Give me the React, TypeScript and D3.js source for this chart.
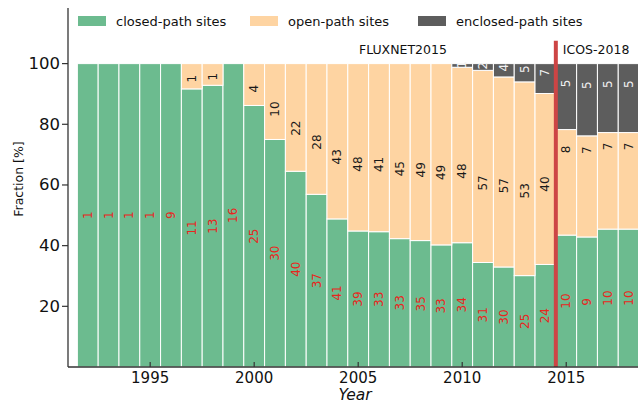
import React from "react";
import * as d3 from "d3";

const years = [1992, 1993, 1994, 1995, 1996, 1997, 1998, 1999, 2000, 2001, 2002, 2003, 2004, 2005, 2006, 2007, 2008, 2009, 2010, 2011, 2012, 2013, 2014, 2015, 2016, 2017, 2018];
const closedCounts = [1, 1, 1, 1, 9, 11, 13, 16, 25, 30, 40, 37, 41, 39, 33, 33, 35, 33, 34, 31, 30, 25, 24, 10, 9, 10, 10];
const openCounts = [0, 0, 0, 0, 0, 1, 1, 0, 4, 10, 22, 28, 43, 48, 41, 45, 49, 49, 48, 57, 57, 53, 40, 8, 7, 7, 7];
const enclosedCounts = [0, 0, 0, 0, 0, 0, 0, 0, 0, 0, 0, 0, 0, 0, 0, 0, 0, 0, 1, 2, 4, 5, 7, 5, 5, 5, 5];
const seriesKeys = ["closed", "open", "enclosed"];
const seriesNames = ["closed-path sites", "open-path sites", "enclosed-path sites"];
const yTicks = [20, 40, 60, 80, 100];
const xTicks = [1995, 2000, 2005, 2010, 2015];
const datasetBreak = 2014.5;
const datasetNames = ["FLUXNET2015", "ICOS-2018"];

const W = 638;
const H = 405;
const FONT = "DejaVu Sans, Verdana, sans-serif";
const COLORS: Record<string, string> = { closed: "#6cbb8f", open: "#fed4a2", enclosed: "#5d5d5d" };
const LABEL_COLORS: Record<string, string> = { closed: "#e8261e", open: "#1a1a1a", enclosed: "#f2f2f2" };

export default function App() {
  const margin = { left: 68, right: 0, top: 9, bottom: 38 };
  const x = d3.scaleLinear().domain([1991.05, 2018.45]).range([margin.left, W - margin.right]);
  const y = d3.scaleLinear().domain([0, 118]).range([H - margin.bottom, margin.top]);

  const table = years.map((yr, i) => {
    const total = closedCounts[i] + openCounts[i] + enclosedCounts[i];
    return {
      year: yr,
      closed: (closedCounts[i] / total) * 100,
      open: (openCounts[i] / total) * 100,
      enclosed: (enclosedCounts[i] / total) * 100,
      counts: { closed: closedCounts[i], open: openCounts[i], enclosed: enclosedCounts[i] },
    };
  });
  const stacked = d3.stack<any>().keys(seriesKeys)(table);

  const labelPos = (key: string, d: any) => {
    const lo = d[0];
    const hi = d[1];
    if (key === "closed") return (lo + hi) / 2;
    if (key === "open") {
      const icos = d.data.year > datasetBreak;
      return lo + (icos ? 0.5 : 0.4) * (100 - lo);
    }
    return hi - 0.3 * (hi - lo);
  };

  const x0 = margin.left;
  const y0 = H - margin.bottom;
  const bw = x(1) - x(0);

  return (
    <svg width={W} height={H} style={{ position: "absolute", left: 0, top: 0, background: "#fff" }} fontFamily={FONT}>
      {stacked.map((s) => (
        <g key={s.key}>
          {s.map((d: any) =>
            d[1] - d[0] > 0 ? (
              <rect
                key={d.data.year}
                x={x(d.data.year - 0.5)}
                width={bw}
                y={y(d[1])}
                height={y(d[0]) - y(d[1])}
                fill={COLORS[s.key]}
                stroke="#ffffff"
                strokeWidth={1}
              />
            ) : null
          )}
        </g>
      ))}
      {stacked.map((s) => (
        <g key={"lab" + s.key}>
          {s.map((d: any) => {
            const c = d.data.counts[s.key];
            if (!c) return null;
            const cx = x(d.data.year);
            const cy = y(labelPos(s.key, d));
            return (
              <text
                key={d.data.year}
                transform={`translate(${cx},${cy}) rotate(-90)`}
                textAnchor="middle"
                dominantBaseline="central"
                fontSize={12}
                fill={LABEL_COLORS[s.key]}
              >
                {c}
              </text>
            );
          })}
        </g>
      ))}
      {/* dataset separator */}
      <line x1={x(datasetBreak)} x2={x(datasetBreak)} y1={y(107.5)} y2={y0} stroke="#cd4545" strokeWidth={4} />
      <text x={x(2007.15)} y={y(104.5)} textAnchor="middle" dominantBaseline="central" fontSize={12.5} fill="#111">
        {datasetNames[0]}
      </text>
      <text x={x(datasetBreak) + 7} y={y(104.5)} textAnchor="start" dominantBaseline="central" fontSize={12.5} fill="#111">
        {datasetNames[1]}
      </text>
      {/* spines */}
      <line x1={x0} x2={x0} y1={margin.top - 1} y2={y0} stroke="#333" strokeWidth={1.3} />
      <line x1={x0} x2={W} y1={y0} y2={y0} stroke="#333" strokeWidth={1.3} />
      {yTicks.map((t) => (
        <g key={t}>
          <line x1={x0 - 6} x2={x0} y1={y(t)} y2={y(t)} stroke="#333" strokeWidth={1.2} />
          <text x={x0 - 8} y={y(t)} textAnchor="end" dominantBaseline="central" fontSize={16.5} fill="#111">
            {t}
          </text>
        </g>
      ))}
      {xTicks.map((t) => (
        <g key={t}>
          <line x1={x(t)} x2={x(t)} y1={y0} y2={y0 - 5} stroke="#333" strokeWidth={1.2} />
          <text x={x(t)} y={y0 + 11} textAnchor="middle" dominantBaseline="central" fontSize={15} fill="#111">
            {t}
          </text>
        </g>
      ))}
      <text x={x(2004.85)} y={y0 + 28} textAnchor="middle" dominantBaseline="central" fontSize={15.5} fontStyle="italic" fill="#111">
        Year
      </text>
      <text transform={`translate(18,179) rotate(-90)`} textAnchor="middle" dominantBaseline="central" fontSize={12.5} fill="#111">
        Fraction [%]
      </text>
      {/* legend */}
      {seriesKeys.map((k, i) => {
        const lx = [78, 250, 418][i];
        return (
          <g key={"leg" + k}>
            <rect x={lx} y={16} width={28} height={10} fill={COLORS[k]} />
            <text x={lx + 38} y={21} dominantBaseline="central" fontSize={13} fill="#111">
              {seriesNames[i]}
            </text>
          </g>
        );
      })}
    </svg>
  );
}
